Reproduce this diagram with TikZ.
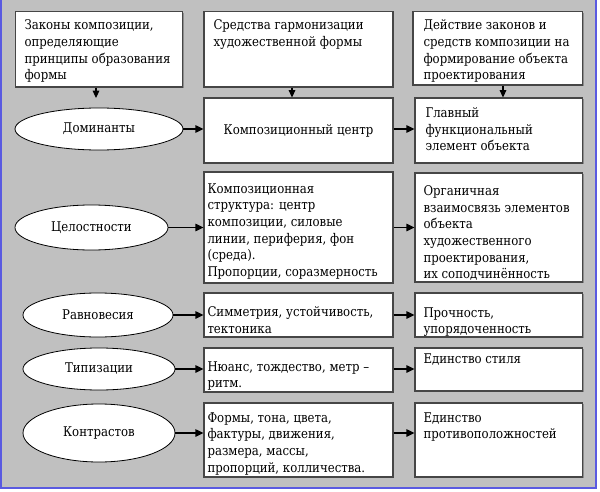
\documentclass[tikz,border=0pt]{standalone}
\usepackage{fontspec}
\newfontfamily\ruserif{DejaVu Serif}[FakeStretch=0.88]
\usetikzlibrary{arrows.meta,fit,shapes.geometric,shadows}

\definecolor{panelgray}{RGB}{192,192,192}
\definecolor{frameblue}{RGB}{90,90,225}
\definecolor{boxline}{RGB}{70,70,70}

\tikzset{every picture/.style={line width=0.75pt}}
\tikzset{
  box/.style={draw=boxline, fill=white, inner sep=0pt, line width=0.8pt,
    drop shadow={shadow xshift=0.8pt, shadow yshift=-0.8pt, fill=black!45, opacity=1}},
  oval/.style={ellipse, draw, fill=white, inner sep=0pt, line width=0.6pt,
    font=\ruserif\fontsize{10}{12.5}\selectfont},
  txt/.style={inner sep=0pt, align=left, font=\ruserif\fontsize{10}{12.5}\selectfont},
  harrow/.style={-{Triangle[length=6pt,width=5.5pt]}, line width=1.1pt},
  varrow/.style={-{Triangle[length=5.5pt,width=5pt]}, line width=0.8pt},
}

\begin{document}
\begin{tikzpicture}[x=0.75pt,y=0.75pt,yscale=-1,xscale=1]

\useasboundingbox (0,0) rectangle (600,492);
\fill [panelgray] (0,0) rectangle (597,489);
\draw [frameblue, line width=1.2pt] (1,0) -- (1,488) -- (596,488) -- (596,0);

% header boxes
\node [box, fit={(15.5,11.5) (182.5,87)}] (zak) {};
\node [box, fit={(204,11.5) (393,87)}] (sred) {};
\node [box, fit={(413,11.5) (582.5,85)}] (deistv) {};

% right hand boxes
\node [box, fit={(204,98) (393,163)}] (centr) {};
\node [box, fit={(415,98) (582.5,163)}] (glavn) {};
\node [box, fit={(204,172) (393,283)}] (struct) {};
\node [box, fit={(415,173) (582.5,282)}] (organ) {};
\node [box, fit={(204,293) (393,337)}] (simm) {};
\node [box, fit={(415,293) (582.5,337)}] (prochn) {};
\node [box, fit={(204,348) (393,392)}] (nuans) {};
\node [box, fit={(415,348) (582.5,391)}] (edst) {};
\node [box, fit={(204,403) (393,477)}] (formy) {};
\node [box, fit={(415,403) (582.5,477)}] (edprot) {};

% laws
\node [oval, minimum width=126pt, minimum height=31.5pt] (dom) at (99,129) {Доминанты};
\node [oval, minimum width=114.75pt, minimum height=33.75pt] (cel) at (91.5,227.5) {Целостности};
\node [oval, minimum width=112.5pt, minimum height=33pt] (ravn) at (98,315) {Равновесия};
\node [oval, minimum width=114pt, minimum height=31.5pt] (tip) at (99,369) {Типизации};
\node [oval, minimum width=114pt, minimum height=43.5pt] (kontr) at (99,433) {Контрастов};

% texts
\node [txt, anchor=north west] (zak-t) at (24,19.5) {Законы композиции,\\определяющие\\принципы образования\\формы};
\node [txt, anchor=north west] (sred-t) at (213,19.5) {Средства гармонизации\\художественной формы};
\node [txt, anchor=north west] (deistv-t) at (423,19.5) {Действие законов и\\средств композиции на\\формирование объекта\\проектирования};
\node [txt] (centr-t) at (centr) {Композиционный центр};
\node [txt, anchor=north west] (glavn-t) at (425,107) {Главный\\функциональный\\элемент объекта};
\node [txt, anchor=north west] (struct-t) at (207,183) {Композиционная\\структура: центр\\композиции, силовые\\линии, периферия, фон\\(среда).\\Пропорции, соразмерность};
\node [txt, anchor=north west] (organ-t) at (423,185) {Органичная\\взаимосвязь элементов\\объекта\\художественного\\проектирования,\\их соподчинённость};
\node [txt, anchor=north west] (simm-t) at (207,306) {Симметрия, устойчивость,\\тектоника};
\node [txt, anchor=north west] (prochn-t) at (423,307) {Прочность,\\упорядоченность};
\node [txt, anchor=north west] (nuans-t) at (207,361) {Нюанс, тождество, метр –\\ритм.};
\node [txt, anchor=north west] (edst-t) at (423,353) {Единство стиля};
\node [txt, anchor=north west] (formy-t) at (207,412) {Формы, тона, цвета,\\фактуры, движения,\\размера, массы,\\пропорций, колличества.};
\node [txt, anchor=north west] (edprot-t) at (423,412) {Единство\\противоположностей};

% down arrows
\coordinate (a1) at (96,98);
\coordinate (a2) at (292,0);
\coordinate (a3) at (503,0);
\draw [varrow] (zak.south -| a1) -- (a1);
\draw [varrow] (sred.south -| a2) -- (centr.north -| a2);
\draw [varrow] (deistv.south -| a3) -- (glavn.north -| a3);

% rows
\draw [harrow] (dom.east) -- (dom.east -| centr.west);
\draw [harrow] (dom -| centr.east) -- (dom -| glavn.west);
\draw [harrow] (cel.east) -- (cel.east -| struct.west);
\draw [harrow] (cel -| struct.east) -- (cel -| organ.west);
\draw [harrow] (ravn.east) -- (ravn.east -| simm.west);
\draw [harrow] (ravn -| simm.east) -- (ravn -| prochn.west);
\draw [harrow] (tip.east) -- (tip.east -| nuans.west);
\draw [harrow] (tip -| nuans.east) -- (tip -| edst.west);
\draw [harrow] (kontr.east) -- (kontr.east -| formy.west);
\draw [harrow] (kontr -| formy.east) -- (kontr -| edprot.west);

\end{tikzpicture}
\end{document}
